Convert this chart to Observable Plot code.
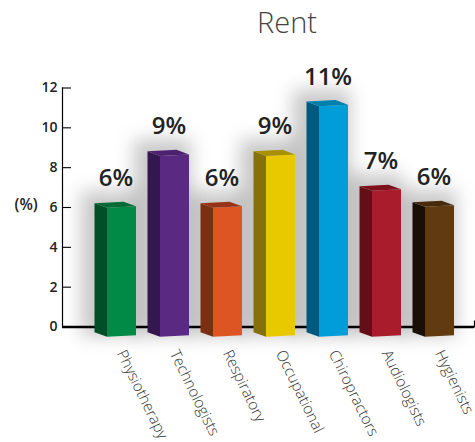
<!DOCTYPE html>
<html><head><meta charset="utf-8">
<script src="https://cdn.jsdelivr.net/npm/d3@7"></script>
<script src="https://cdn.jsdelivr.net/npm/@observablehq/plot@0.6"></script>
<style>
html,body{margin:0;padding:0;background:#fff;overflow:hidden}
#title{height:45px;padding-left:257px;font:300 29px/43px "Open Sans",sans-serif;color:#444}
.shadow{filter:blur(9px)}
</style></head><body>
<div id="title">Rent</div>
<div id="chart"></div>
<script>
const categories = ["Physiotherapy","Technologists","Respiratory","Occupational","Chiropractors","Audiologists","Hygienists"];
const heights = [6.0,8.6,6.0,8.6,11.1,6.85,6.05];
const labels = [6,9,6,9,11,7,6];
const yTicks = [0,2,4,6,8,10,12];
const frontColors = ["#008a45","#5a2a82","#dc5522","#e8c900","#009dd9","#a81c2c","#623a12"];
const sideColors  = ["#004f26","#35174f","#7a2e12","#85700a","#005a80","#640f18","#1a0f05"];
const topColors   = ["#006b34","#4c2270","#963316","#a89000","#0080ad","#7c111c","#47290c"];

const rows = categories.map((c,i)=>({name:c,value:heights[i],label:labels[i]+"%",i}));
const base = -0.48, depthX = 12.5, depthY = 4.6, tilt = 1.5;
const ns = "http://www.w3.org/2000/svg";
function poly(parent, pts, fill){
  const p = document.createElementNS(ns,"polygon");
  p.setAttribute("points", pts.map(q=>q.join(",")).join(" "));
  p.setAttribute("fill", fill);
  parent.appendChild(p);
}
function faces(index, scales, values, dimensions, context, next){
  const g = next(index, scales, values, dimensions, context);
  const rects = Array.from(g.querySelectorAll("rect"));
  rects.forEach((r,k)=>{
    const i = index[k];
    const x = +r.getAttribute("x"), y = +r.getAttribute("y"), w = +r.getAttribute("width"), h = +r.getAttribute("height");
    r.style.transformBox = "fill-box";
    r.style.transformOrigin = "center";
    r.style.transform = "skewY(-3deg)";
    const tl=[x,y+tilt/2], tr=[x+w,y-tilt/2], bl=[x,y+h+tilt/2];
    poly(g,[tl,[tl[0]-depthX,tl[1]-depthY],[bl[0]-depthX,bl[1]-depthY],bl],sideColors[i]);
    poly(g,[tl,[tl[0]-depthX,tl[1]-depthY],[tr[0]-depthX,tr[1]-depthY],tr],topColors[i]);
  });
  return g;
}
function widen(index, scales, values, dimensions, context, next){
  const g = next(index, scales, values, dimensions, context);
  g.querySelectorAll("rect").forEach(r=>{
    r.setAttribute("x", +r.getAttribute("x")-26);
    r.setAttribute("width", +r.getAttribute("width")+28);
  });
  return g;
}
const font = '"Open Sans",sans-serif';
const chart = Plot.plot({
  width:475, height:397,
  marginLeft:62, marginRight:1, marginTop:42.5, marginBottom:115.5,
  style:{fontFamily:font,background:"transparent",overflow:"visible"},
  x:{domain:categories, range:[95,466], paddingInner:0.45, paddingOuter:0.225, axis:null, label:null},
  y:{domain:[0,12], range:[281.5,42.5], axis:null, label:null},
  color:{domain:categories, range:frontColors},
  marks:[
    Plot.barY(rows,{x:"name",y1:base,y2:d=>d.value+0.8,fill:"#7c7c7c",fillOpacity:0.42,className:"shadow",render:widen}),
    Plot.ruleY([0],{stroke:"#000",strokeWidth:2.6}),
    Plot.frame({anchor:"left",stroke:"#000",strokeWidth:1.2}),
    Plot.frame({anchor:"right",stroke:"#000",strokeWidth:1.2,insetTop:233}),
    Plot.tickY(yTicks,{stroke:"#000",strokeWidth:1.1,insetRight:403}),
    Plot.barY(rows,{x:"name",y1:base,y2:"value",fill:"name",render:faces}),
    Plot.axisY({ticks:yTicks,tickSize:0,tickPadding:5,label:null,tickFormat:d=>d,fontSize:14,fontWeight:600,fill:"#222",textStroke:"none"}),
    Plot.text(["(%)"],{y:[6],frameAnchor:"left",textAnchor:"start",dx:-48,dy:-2,fontSize:15.5,fontWeight:600,fill:"#222"}),
    Plot.text(rows,{x:"name",y:"value",text:"label",dx:-6,dy:-29,fontSize:24,fontWeight:600,fill:"#222"}),
    Plot.axisX({tickSize:0,tickPadding:24,tickRotate:64,label:null,fontSize:15.2,fontWeight:300,fill:"#333",dx:-1,textAnchor:"start"})
  ]
});
document.getElementById("chart").appendChild(chart);
</script>
</body></html>
